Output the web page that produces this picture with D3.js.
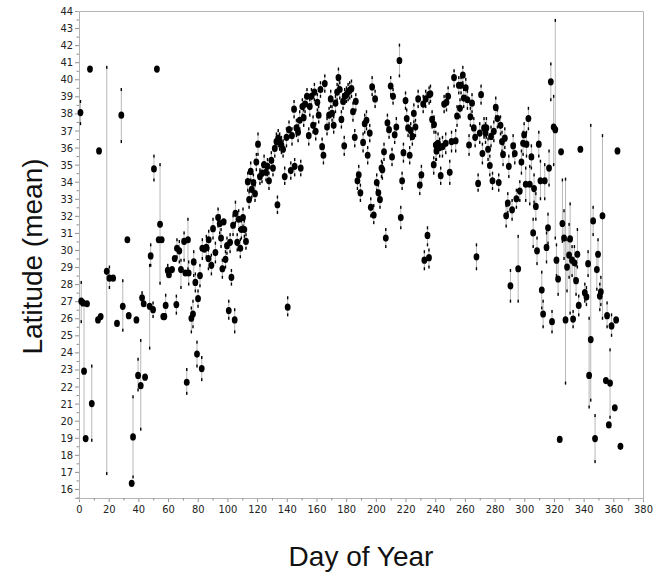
<!DOCTYPE html>
<html>
<head>
<meta charset="utf-8">
<script src="https://cdnjs.cloudflare.com/ajax/libs/d3/7.8.5/d3.min.js"></script>
<style>
  body { margin: 0; background: #fff; }
  .tick text { font-family: "Liberation Sans Narrow", "DejaVu Sans Condensed", "Arial Narrow", sans-serif; font-size: 11px; fill: #222; }
  .axis-title { font-family: "Liberation Sans", Arial, sans-serif; font-size: 28px; fill: #111; }
</style>
</head>
<body>
<script>
// Day of year for each point
var days = [1, 1.5, 2.7, 3.4, 4.5, 5.4, 7.4, 8.6, 12.8, 13.5, 14.6, 18.7, 20.5, 23, 25.6, 28.5, 29.5, 32.6, 33.5, 35.5,
  36.4, 38.7, 39.8, 41.6, 42.5, 43.6, 44.5, 47.6, 48.3, 49.9, 50.5, 52.5, 53.7, 54.6, 55.7, 56.8, 57.5, 58.4, 59.8, 60.6,
  62.7, 64.5, 65.6, 66, 67.6, 68.7, 70.8, 71.7, 72.6, 73.4, 73.9, 75.7, 76.8, 77.3, 78.4, 79.5, 80.2, 81.5, 82.7, 83.1,
  84.5, 85.8, 87.2, 87.4, 89.2, 90.3, 91.9, 93.7, 94.8, 95.7, 96.6, 97.5, 98.7, 99.7, 100.9, 101.8, 102.7, 103.8, 104.9, 105.4,
  106.6, 107.6, 108.7, 109.4, 110.5, 111.4, 112.5, 113.7, 114.6, 115.7, 116.4, 117.5, 118.6, 119.5, 120.6, 121.9, 123.3, 124.7, 126, 127,
  128, 129.6, 130.7, 131.9, 133, 133.7, 134.2, 135.2, 136.4, 137.5, 138.6, 139.8, 140.6, 141.5, 142.7, 143.5, 144.9, 145.3, 146.5, 147.6,
  148.7, 149.4, 150.5, 151.4, 152.3, 153.6, 154.8, 155.5, 156.6, 157.7, 158.6, 159.5, 160.6, 161.5, 162.7, 163.8, 164.7, 165.6, 167.1, 168.5,
  169.6, 170.5, 171.6, 172.8, 173.9, 174.8, 175.7, 176.8, 177.9, 178.7, 179, 180.2, 181.3, 182.4, 183.6, 184.6, 185.8, 186.5, 187.6, 188.5,
  189.6, 191.4, 192.5, 193.7, 194.5, 195.9, 196.6, 197.5, 198.6, 199.5, 200.6, 201.7, 202.8, 203.8, 204.4, 205.5, 206.7, 207.8, 208.9, 210,
  210.9, 211.6, 212.7, 213.8, 215.9, 216.8, 217.7, 218.6, 220, 220.8, 221.7, 222.8, 223.5, 224.6, 225.6, 226.7, 228.5, 229.6, 230.7, 231.9,
  232.7, 233.6, 234.8, 235.8, 235.9, 236.8, 237.9, 239, 239.2, 240.4, 240.8, 241.9, 243, 243.7, 244.9, 246, 247.1, 247.6, 248.7, 249.8,
  251, 252.7, 253.8, 254.7, 255.9, 256.7, 257.4, 258.6, 259.2, 260.6, 261.7, 262.8, 263.7, 264.8, 266, 266.9, 267.8, 268.9, 270, 270.9,
  271.8, 272.9, 273.9, 274.5, 275.6, 276.8, 277.6, 278.6, 279.5, 280.8, 281.9, 282.8, 284, 285, 285.7, 286.9, 287.8, 288.9, 289.6, 290.7,
  291.8, 292.5, 293.6, 294.7, 295.9, 297, 298.1, 299.2, 299.9, 301, 301.5, 302.8, 303.7, 304.8, 306, 306.6, 307.8, 308.6, 309.8, 310.9,
  311.8, 312.7, 313.8, 315, 316, 316.7, 317.9, 318.7, 319.8, 320.9, 321.7, 322.8, 323.9, 324.8, 325.7, 326.8, 327.8, 328.8, 330.2, 330.9,
  332.2, 332.9, 333.8, 334.9, 335.8, 336.7, 337.8, 340.8, 341.9, 343, 343.7, 344.8, 346.4, 347.7, 348.9, 349.7, 350.9, 351.6, 352.7, 355,
  355.8, 357, 357.8, 358.8, 361, 361.9, 362.8, 364.8];

// Mean latitude for each point
var latMean = [38.05, 27.0, 26.9, 22.9, 18.95, 26.85, 40.6, 21.0, 25.9, 35.8, 26.1, 28.75, 28.35, 28.35, 25.7, 37.9, 26.7, 30.6, 26.15, 16.33,
  19.05, 25.9, 22.65, 22.05, 27.2, 26.85, 22.55, 26.7, 29.65, 26.5, 34.75, 40.6, 30.6, 31.5, 30.6, 26.1, 26.1, 26.75, 28.8, 28.55,
  28.85, 29.5, 26.8, 30.1, 29.95, 28.85, 30.5, 28.65, 22.25, 30.6, 28.65, 26.0, 26.25, 29.3, 28.1, 23.9, 27.15, 28.5, 23.05, 30.1,
  30.05, 30.15, 29.5, 30.6, 29.1, 31.25, 29.85, 31.9, 31.55, 30.7, 28.9, 31.65, 29.45, 30.25, 26.45, 30.45, 28.4, 31.45, 25.9, 32.15,
  30.45, 31.8, 30.1, 31.2, 31.9, 31.2, 30.5, 34.0, 32.95, 34.6, 33.55, 33.95, 33.3, 35.15, 36.2, 34.3, 34.5, 35.0, 34.55, 34.9,
  34.05, 35.25, 34.8, 35.95, 36.35, 32.65, 36.55, 36.35, 36.15, 35.9, 34.3, 36.6, 26.65, 37.05, 34.65, 36.7, 38.25, 34.9, 37.15, 36.9,
  37.6, 34.8, 38.4, 37.75, 38.55, 39.0, 36.7, 38.4, 39.0, 37.3, 39.25, 36.95, 38.65, 37.9, 39.4, 36.05, 35.55, 39.75, 37.2, 37.9,
  38.85, 38.0, 37.3, 38.6, 39.25, 40.1, 39.4, 37.65, 38.7, 36.1, 39.0, 39.1, 39.25, 39.35, 39.45, 38.1, 36.6, 38.7, 34.05, 34.4,
  33.35, 36.3, 37.4, 37.6, 35.55, 36.85, 32.5, 39.55, 32.05, 38.85, 33.95, 33.35, 32.95, 34.8, 34.7, 35.75, 30.7, 37.45, 37.05, 39.6,
  35.45, 39.0, 36.75, 37.2, 41.1, 31.9, 34.05, 35.7, 38.75, 37.7, 37.15, 35.55, 37.0, 36.65, 38.0, 37.2, 38.85, 33.8, 34.4, 38.55,
  29.4, 38.85, 30.85, 29.55, 39.1, 39.15, 37.65, 35.0, 37.35, 36.15, 35.8, 36.25, 36.0, 34.35, 36.05, 38.55, 36.25, 38.65, 39.0, 34.55,
  36.35, 40.1, 36.4, 37.85, 39.65, 38.3, 39.65, 40.25, 38.9, 39.5, 38.8, 36.15, 37.8, 38.6, 37.15, 36.6, 29.6, 33.9, 36.85, 39.1,
  35.65, 37.15, 36.85, 37.15, 35.9, 34.95, 36.65, 34.05, 36.95, 38.35, 37.7, 33.95, 37.3, 36.35, 35.6, 36.55, 32.0, 32.75, 34.9, 27.9,
  32.35, 36.1, 35.65, 33.0, 28.9, 33.45, 35.15, 36.25, 36.75, 33.85, 36.2, 37.7, 33.85, 35.45, 31.0, 33.6, 32.55, 29.95, 36.2, 34.05,
  27.65, 26.25, 34.05, 30.15, 31.3, 34.8, 39.85, 25.8, 37.2, 37.05, 29.4, 28.3, 18.9, 35.75, 31.55, 30.7, 25.9, 29.0, 29.7, 30.65,
  29.4, 25.95, 29.25, 28.2, 29.75, 26.75, 35.9, 27.5, 27.25, 29.2, 22.65, 24.75, 31.7, 18.95, 28.85, 29.75, 27.3, 27.55, 32.0, 22.35,
  26.15, 19.75, 22.2, 25.55, 20.75, 25.9, 35.8, 18.5];

// Lower and upper ends of the error bars (null = no bar)
var latLow = [37.4, 25.8, null, 18.9, null, null, null, 18.85, null, null, null, 16.9, 27.8, null, null, 36.35, 25.3, null, null, null,
  16.7, null, 21.8, 19.5, 26.9, null, null, 24.25, 29.1, 26.1, 34.1, null, null, 28.05, null, null, null, 26.2, 28.5, null,
  null, null, 26.3, 29.6, 29.3, 27.8, 29.4, null, 21.6, 28.9, 28.0, 25.2, 25.5, 28.5, 27.6, 23.2, 26.7, 27.9, 22.4, 29.5,
  null, 29.6, 28.9, 30.1, 28.6, 30.7, 29.3, 31.4, 31.0, 30.2, 28.4, null, 29.0, 29.8, 26.0, 29.9, 28.0, 30.9, 25.2, 31.6,
  30.0, 31.2, 29.6, 30.7, 31.4, 30.8, 30.1, 33.5, 32.5, 34.1, 33.1, 33.5, 32.9, 34.7, 35.6, 33.9, 34.0, 34.5, 34.1, 34.4,
  33.6, 34.8, 34.4, 35.5, 35.9, 32.2, 36.1, 35.9, 35.7, 35.5, 33.9, 36.1, 26.2, 36.6, 34.2, 36.2, 37.8, 34.4, 36.7, 36.4,
  37.1, 34.4, 37.9, 37.3, 38.1, 38.6, 36.2, 37.9, 38.5, 36.9, 38.8, 36.5, 38.2, 37.5, 39.0, 35.6, 35.1, 39.3, 36.8, 37.4,
  38.4, 37.6, 36.9, 38.1, 38.8, 39.6, 38.9, 37.2, 38.3, 35.6, 38.6, 38.7, 38.8, 38.9, 39.0, 37.6, 36.1, 38.2, 33.6, 34.0,
  32.9, 35.8, 36.9, 37.1, 35.1, 36.4, 32.0, 39.1, 31.6, 38.4, 33.5, 32.9, 32.5, 34.3, 34.2, 35.3, 30.2, 37.0, 36.6, 39.1,
  35.0, 38.6, 36.3, 36.8, 40.2, 31.3, 33.6, 35.2, 38.3, 37.2, 36.7, 35.1, 36.5, 36.2, 37.5, 36.7, 38.4, 33.3, 33.9, 38.1,
  28.9, 38.4, 30.3, 29.0, 38.6, 38.7, 37.2, 34.5, 36.9, 35.3, 35.3, 35.7, 35.5, 33.9, 35.5, 38.1, 35.7, 38.2, 38.6, 33.9,
  35.8, 39.6, 35.8, 37.3, 39.2, 37.8, 39.2, 39.8, 38.4, 39.0, 38.3, 35.6, 37.3, 38.1, 36.6, 36.1, 28.9, 33.5, 36.3, 38.6,
  35.1, 36.6, 36.3, 36.6, 35.3, 34.4, 36.1, 33.6, 36.4, 37.8, 37.2, 33.5, 36.8, 35.8, 35.0, 36.0, 31.4, 32.2, 34.3, 27.0,
  31.8, 35.5, 35.1, 32.5, 27.0, 32.9, 34.5, 35.6, 36.1, 32.9, 35.5, 37.1, 32.7, 34.8, 30.2, 32.8, 31.8, 29.2, 35.5, 33.0,
  26.6, 25.5, 33.0, 29.3, 30.4, 33.8, 38.8, 25.2, 35.0, 30.7, 28.5, 27.4, null, null, 30.5, 29.5, 22.2, 27.6, 28.4, 26.3,
  28.5, 25.5, 28.3, 27.4, 29.0, 26.2, null, 27.0, 26.8, 28.5, 20.8, 21.2, 30.9, 17.6, 27.7, 28.9, 26.5, 26.8, 26.0, null,
  25.5, null, 20.2, 25.0, null, null, null, null];

var latHigh = [38.7, 28.1, null, 26.9, null, null, null, 23.2, null, null, null, 40.7, 29.0, null, null, 39.4, 28.2, null, null, null,
  21.4, null, 23.6, 24.7, 27.5, null, null, 29.1, 30.3, 26.9, 35.5, null, null, 35.0, null, null, null, 27.35, 29.1, null,
  null, null, 27.3, 30.6, 30.5, 29.4, 31.0, null, 23.0, 31.8, 29.3, 26.6, 27.0, 29.9, 28.6, 24.6, 27.6, 29.1, 23.7, 30.6,
  null, 30.8, 30.0, 31.1, 29.7, 31.8, 30.4, 32.4, 32.0, 31.2, 29.4, null, 29.9, 30.7, 27.0, 30.9, 28.8, 32.0, 26.5, 32.8,
  30.9, 32.3, 30.6, 31.7, 32.4, 31.7, 30.9, 34.5, 33.4, 35.1, 34.0, 34.4, 33.8, 35.6, 36.8, 34.7, 35.0, 35.5, 35.0, 35.3,
  34.5, 35.7, 35.2, 36.4, 36.8, 33.1, 37.0, 36.8, 36.6, 36.4, 34.8, 37.1, 27.2, 37.5, 35.1, 37.1, 38.7, 35.3, 37.6, 37.3,
  38.1, 35.2, 38.8, 38.2, 39.0, 39.4, 37.1, 38.8, 39.4, 37.8, 39.7, 37.4, 39.1, 38.4, 39.8, 36.5, 36.0, 40.2, 37.7, 38.3,
  39.3, 38.4, 37.8, 39.0, 39.7, 40.6, 39.8, 38.1, 39.1, 36.6, 39.4, 39.5, 39.7, 39.8, 39.9, 38.6, 37.0, 39.1, 34.5, 34.9,
  33.8, 36.8, 37.9, 38.1, 36.0, 37.3, 33.0, 40.1, 32.6, 39.3, 34.4, 33.8, 33.4, 35.2, 35.1, 36.2, 31.2, 37.9, 37.5, 40.1,
  35.9, 39.4, 37.2, 37.7, 42.0, 32.5, 34.5, 36.2, 39.2, 38.2, 37.6, 36.0, 37.4, 37.1, 38.5, 37.6, 39.3, 34.3, 34.9, 39.0,
  29.9, 39.3, 31.3, 30.0, 39.5, 39.6, 38.1, 35.4, 37.8, 36.9, 36.3, 36.8, 36.5, 34.8, 36.6, 39.0, 36.8, 39.1, 39.5, 35.2,
  36.9, 40.5, 37.0, 38.4, 40.1, 38.8, 40.1, 40.7, 39.4, 40.0, 39.3, 36.7, 38.3, 39.1, 37.7, 37.1, 30.3, 34.4, 37.4, 39.6,
  36.2, 37.7, 37.4, 37.7, 36.5, 35.5, 37.2, 34.5, 37.5, 38.9, 38.2, 34.4, 37.8, 36.9, 36.2, 37.1, 32.6, 33.3, 35.5, 28.8,
  32.9, 36.7, 36.2, 33.5, 30.8, 34.0, 35.8, 36.9, 37.4, 34.8, 36.9, 38.3, 34.9, 36.1, 31.8, 34.4, 33.3, 30.7, 36.9, 35.2,
  28.7, 27.0, 35.0, 31.0, 32.1, 35.8, 40.9, 26.4, 39.0, 43.45, 30.3, 29.4, null, null, 34.1, 32.3, 34.15, 30.6, 31.5, 32.7,
  30.2, 26.4, 30.2, 29.1, 31.2, 27.3, null, 28.0, 27.8, 29.9, 26.0, 37.3, 32.5, 20.3, 29.8, 30.6, 28.0, 28.4, 36.7, null,
  26.9, null, 24.15, 26.2, null, null, null, null];

// Tick values
var xMajorTicks = d3.range(0, 381, 20);
var xMinorTicks = d3.range(10, 380, 20);
var yMajorTicks = d3.range(16, 45, 1);
var yMinorTicks = d3.range(15.5, 44, 1);

// Set dimensions and margins of graph
var margin = {top: 11, right: 11, bottom: 79, left: 79},
    width = 654 - margin.left - margin.right,
    height = 577 - margin.top - margin.bottom;

// Set ranges
var x = d3.scaleLinear().domain([0, 380]).range([0, width]);
var y = d3.scaleLinear().domain([15.47, 44]).range([height, 0]);

var svg = d3.select('body').append('svg')
    .attr('width', 654)
    .attr('height', 577)
  .append('g')
    .attr('transform', 'translate(' + margin.left + ',' + margin.top + ')');

// Frame (top and right)
svg.append('path')
    .attr('d', 'M0,0.5H' + (width + 0.5) + 'V' + height)
    .attr('fill', 'none')
    .attr('stroke', '#b4b4b4');

// Axes
svg.append('g')
    .attr('transform', 'translate(0,' + height + ')')
    .call(d3.axisBottom(x).tickValues(xMajorTicks).tickSize(4).tickPadding(3).tickFormat(d3.format('d')));
svg.append('g')
    .attr('transform', 'translate(0,' + height + ')')
    .call(d3.axisBottom(x).tickValues(xMinorTicks).tickSize(2.5).tickFormat(''));

svg.append('g')
    .call(d3.axisLeft(y).tickValues(yMajorTicks).tickSize(4).tickPadding(2).tickFormat(d3.format('d')));
svg.append('g')
    .call(d3.axisLeft(y).tickValues(yMinorTicks).tickSize(2.5).tickFormat(''));

svg.selectAll('.domain').attr('stroke', '#b4b4b4');
svg.selectAll('.tick line').attr('stroke', '#909090');

// Build point list
var points = days.map(function(d, i) {
    return {day: d, mean: latMean[i], lo: latLow[i], hi: latHigh[i]};
});
var withBars = points.filter(function(d) { return d.lo !== null; });

// Error bars
svg.append('g').selectAll('line')
    .data(withBars)
  .enter().append('line')
    .attr('x1', function(d) { return x(d.day); })
    .attr('x2', function(d) { return x(d.day); })
    .attr('y1', function(d) { return y(d.lo); })
    .attr('y2', function(d) { return y(d.hi); })
    .attr('stroke', '#b8b8b8')
    .attr('stroke-width', 1);

// Caps
var caps = svg.append('g');
['lo', 'hi'].forEach(function(k) {
    caps.selectAll('rect.' + k)
        .data(withBars)
      .enter().append('rect')
        .attr('class', k)
        .attr('x', function(d) { return x(d.day) - 0.7; })
        .attr('y', function(d) { return y(d[k]) - 1.5; })
        .attr('width', 1.4)
        .attr('height', 3)
        .attr('fill', '#000');
});

// Points
svg.append('g').selectAll('ellipse')
    .data(points)
  .enter().append('ellipse')
    .attr('cx', function(d) { return x(d.day); })
    .attr('cy', function(d) { return y(d.mean); })
    .attr('rx', 2.9)
    .attr('ry', 3.6)
    .attr('fill', '#000');

// Axis titles
svg.append('text')
    .attr('class', 'axis-title')
    .attr('text-anchor', 'middle')
    .attr('x', width / 2)
    .attr('y', height + 68)
    .text('Day of Year');

svg.append('text')
    .attr('class', 'axis-title')
    .attr('text-anchor', 'middle')
    .attr('transform', 'translate(' + (-37) + ',' + (height / 2 + 2) + ') rotate(-90)')
    .text('Latitude (mean)');
</script>
</body>
</html>
